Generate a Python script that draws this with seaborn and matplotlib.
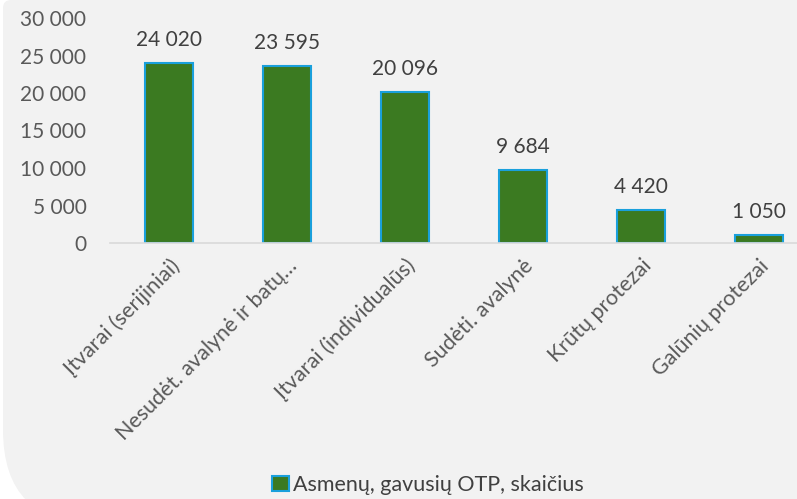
import matplotlib
matplotlib.use("Agg")
import matplotlib.pyplot as plt
import seaborn as sns
import pandas as pd
from matplotlib.patches import FancyBboxPatch, Patch
from matplotlib.ticker import FuncFormatter, FixedLocator
from matplotlib.transforms import IdentityTransform

categories = [
    "Įtvarai (serijiniai)",
    "Nesudėt. avalynė ir batų…",
    "Įtvarai (individualūs)",
    "Sudėti. avalynė",
    "Krūtų protezai",
    "Galūnių protezai",
]
values = [24020, 23595, 20096, 9684, 4420, 1050]
series_name = "Asmenų, gavusių OTP, skaičius"

bar_color = "#3b7a21"
edge_color = "#1aa0dc"

sns.set_style("white")
plt.rcParams["font.family"] = ["Lato", "DejaVu Sans"]

df = pd.DataFrame({"cat": categories, "val": values})

fig = plt.figure(figsize=(7.97, 4.99), dpi=100)
fig.patch.set_facecolor("white")

# grey chart area: small corner at top-left, large corner at bottom-left
top_part = FancyBboxPatch((3, 200), 900, 299, boxstyle="round,pad=0,rounding_size=8",
                          transform=IdentityTransform(), facecolor="#f2f2f2",
                          edgecolor="none", zorder=-10)
bottom_part = FancyBboxPatch((3, -25), 900, 330, boxstyle="round,pad=0,rounding_size=94",
                             transform=IdentityTransform(), facecolor="#f2f2f2",
                             edgecolor="none", zorder=-10)
fig.add_artist(top_part)
fig.add_artist(bottom_part)

ax = fig.add_axes([110 / 797, 256 / 499, 708 / 797, 225 / 499])
ax.set_facecolor("none")
ax.set_zorder(1)

sns.barplot(data=df, x="cat", y="val", color=bar_color, edgecolor=edge_color,
            linewidth=1.5, width=0.41, saturation=1, ax=ax)

ax.set_xlim(-0.5, len(categories) - 0.5)
ax.set_ylim(0, 30000)
ax.set_xlabel("")
ax.set_ylabel("")

fmt = FuncFormatter(lambda v, p: f"{int(v):,}".replace(",", " "))
ax.yaxis.set_major_locator(FixedLocator(range(0, 30001, 5000)))
ax.yaxis.set_major_formatter(fmt)
ax.tick_params(axis="y", length=0, pad=17, labelsize=15, labelcolor="#595959")

ax.set_xticks(range(len(categories)))
ax.set_xticklabels(categories, rotation=45, ha="right", rotation_mode="anchor",
                   fontsize=15.5, color="#595959")
ax.tick_params(axis="x", which="major", length=0, pad=9)
ax.set_xticks([i - 0.5 for i in range(len(categories) + 1)], minor=True)
ax.tick_params(axis="x", which="minor", length=6, width=1, color="#d9d9d9",
               direction="out")

for s in ["top", "right", "left"]:
    ax.spines[s].set_visible(False)
ax.spines["bottom"].set_color("#d9d9d9")
ax.spines["bottom"].set_linewidth(1.2)

for i, v in enumerate(values):
    ax.annotate(f"{v:,}".replace(",", " "), (i, v), xytext=(0, 9.5),
                textcoords="offset points", ha="center", va="bottom",
                fontsize=15, color="#404040")

handle = Patch(facecolor=bar_color, edgecolor=edge_color, linewidth=1.5)
fig.legend([handle], [series_name], loc="center", bbox_to_anchor=(0.537, 0.028),
           frameon=False, fontsize=15.5, handlelength=0.75, handleheight=0.75,
           handletextpad=0.2, labelcolor="#404040")

fig.savefig("out.png", dpi=100)
